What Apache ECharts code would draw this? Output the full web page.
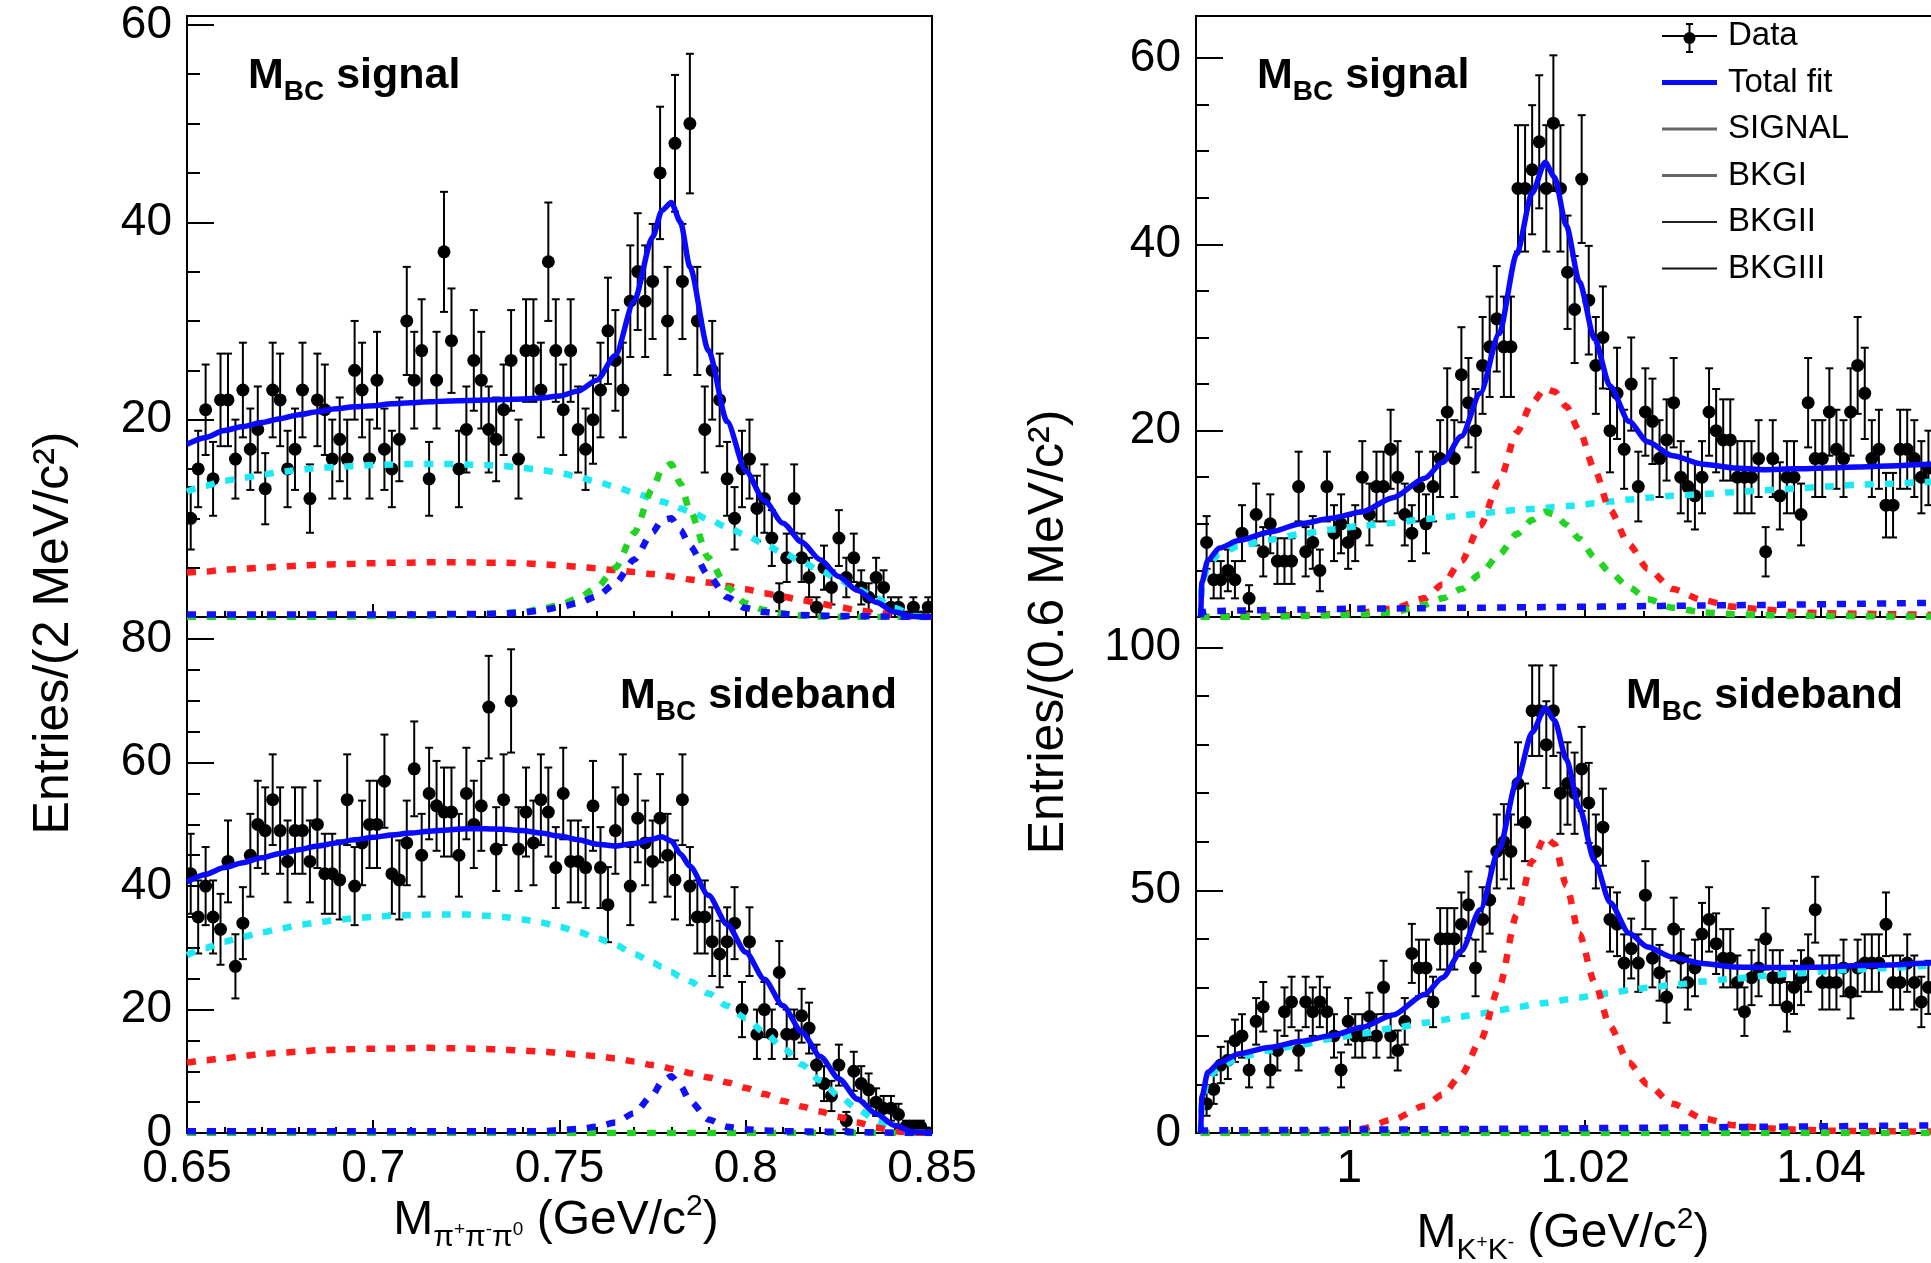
<!DOCTYPE html>
<html>
<head>
<meta charset="utf-8">
<title>M(π+π−π0) and M(K+K−) fits</title>
<script src="https://cdn.jsdelivr.net/npm/echarts@6.0.0/dist/echarts.min.js"></script>
<style>
  html, body { margin: 0; padding: 0; background: #ffffff; }
  #chart { width: 1931px; height: 1263px; }
</style>
</head>
<body>
<div id="chart"></div>
<script>
const FONT = '"Liberation Sans", Arial, Helvetica, sans-serif';

// ---------------- histograms ----------------
// M(pi+ pi- pi0): 2 MeV/c^2 bins from 0.65 GeV/c^2
const omegaLo = 0.65;
const omegaBin = 0.002;
const omegaSignal = [
  10,15,21,14,22,22,16,23,17,19,
  13,23,22,15,17,23,12,22,21,16,
  18,16,25,23,16,24,17,15,18,30,
  24,27,14,24,37,28,15,19,26,24,
  19,18,21,26,16,27,27,23,36,27,
  21,27,19,17,20,23,29,26,23,32,
  35,32,34,45,30,48,34,50,30,19,
  25,22,14,10,15,16,11,12,8,2,
  6,12,6,4,1,5,3,8,4,6,
  3,2,4,3,1,1,0,1,0,1
];
const omegaSideband = [
  42,35,40,35,33,44,27,34,45,50,
  49,54,49,44,49,49,44,50,42,42,
  41,54,40,47,50,50,57,42,41,47,
  59,45,55,53,52,52,45,55,50,53,
  69,46,54,70,46,52,47,54,52,43,
  55,44,44,43,53,43,37,49,54,40,
  51,47,44,51,45,41,54,40,35,35,
  31,29,31,34,20,31,16,20,16,26,
  16,16,19,17,11,8,6,11,2,10,
  8,7,5,4,4,3,1,1,1,0
];

// M(K+ K-): 0.6 MeV/c^2 bins from 0.987 GeV/c^2 (first bin empty, below threshold)
const phiLo = 0.987;
const phiBin = 0.0006;
const phiSignal = [
  null,8,4,4,5,4,9,2,11,7,
  10,6,6,6,14,7,8,5,14,9,
  10,8,9,15,11,14,14,18,15,11,
  9,14,10,14,17,22,17,26,23,20,
  27,29,32,29,29,46,46,48,51,46,
  53,46,37,33,47,34,27,30,20,24,
  18,25,14,22,21,17,19,23,15,14,
  13,15,22,20,19,19,15,15,15,17,
  7,17,13,15,15,11,23,17,17,22,
  18,17,22,27,24,17,18,12,12,18,
  18,17,15,16
];
const phiSideband = [
  null,6,9,14,15,19,20,13,23,26,
  13,17,25,27,17,27,25,27,25,20,
  13,23,20,20,24,20,30,20,17,23,
  37,34,34,27,40,40,40,43,47,34,
  44,48,58,60,58,72,64,87,87,80,
  87,70,72,70,75,68,58,63,44,43,
  35,38,35,49,36,33,28,42,36,31,
  34,41,44,39,36,36,31,25,32,34,
  40,32,32,26,30,32,35,46,31,31,
  31,34,29,34,35,35,35,43,31,31,
  35,31,27,30
];

// ---------------- fitted curves ----------------
const omegaCurveX = [
  0.65,0.655,0.66,0.665,0.67,0.675,0.68,0.685,0.69,0.695,
  0.70,0.705,0.71,0.715,0.72,0.725,0.73,0.735,0.74,0.745,
  0.75,0.755,0.76,0.765,0.77,0.775,0.7775,0.78,0.7825,0.785,
  0.79,0.795,0.80,0.805,0.81,0.815,0.82,0.825,0.83,0.835,
  0.84,0.845,0.85
];
const omegaSigTotal = [
  17.5,18.2,18.9,19.3,19.7,20.1,20.5,20.8,21.1,21.3,
  21.4,21.6,21.7,21.8,21.9,21.95,22.0,22.05,22.1,22.2,
  22.4,22.9,24.0,26.5,32.0,38.5,41.2,42.0,40.0,35.5,
  27.0,19.8,14.8,11.8,9.5,7.6,5.8,4.1,2.7,1.5,
  0.5,0.05,0
];
const omegaSigCyan = [
  12.7,13.3,13.8,14.1,14.4,14.7,14.9,15.1,15.2,15.3,
  15.4,15.45,15.5,15.5,15.5,15.45,15.4,15.3,15.1,14.9,
  14.6,14.2,13.7,13.2,12.6,12.0,11.7,11.4,11.0,10.7,
  9.9,9.1,8.3,7.4,6.5,5.6,4.7,3.8,2.8,1.9,
  0.9,0.1,0
];
const omegaSigRed = [
  4.5,4.6,4.8,4.9,5.0,5.1,5.2,5.3,5.35,5.4,
  5.45,5.5,5.5,5.55,5.55,5.55,5.5,5.5,5.45,5.35,
  5.25,5.1,4.95,4.75,4.55,4.35,4.25,4.1,3.95,3.8,
  3.5,3.15,2.8,2.4,2.05,1.7,1.35,1.0,0.7,0.45,
  0.2,0.05,0
];
const omegaSigGreen = [
  0,0,0,0,0,0,0,0,0.05,0.05,
  0.1,0.1,0.15,0.15,0.2,0.25,0.3,0.4,0.5,0.8,
  1.2,1.9,3.0,5.0,8.5,13.0,15.0,15.5,13.5,10.8,
  6.0,3.0,1.4,0.7,0.35,0.15,0.05,0,0,0,
  0,0,0
];
const omegaSigBlue = [
  0.25,0.25,0.25,0.25,0.25,0.25,0.25,0.25,0.25,0.25,
  0.25,0.25,0.25,0.25,0.3,0.3,0.3,0.35,0.45,0.65,
  1.0,1.4,2.1,3.4,5.8,8.6,9.8,10.0,8.8,7.2,
  4.2,2.0,0.9,0.5,0.3,0.2,0.15,0.1,0.1,0.05,
  0.05,0,0
];
const omegaSideTotal = [
  40.7,41.9,43.0,43.8,44.6,45.3,45.9,46.5,47.0,47.5,
  47.9,48.3,48.6,48.9,49.1,49.3,49.3,49.2,49.0,48.6,
  48.1,47.5,46.8,46.5,46.9,47.6,48.0,47.3,45.2,43.2,
  38.5,33.8,29.3,24.9,20.6,16.4,12.4,8.8,5.5,3.1,
  1.2,0.15,0
];
const omegaSideCyan = [
  28.8,30.0,31.0,31.8,32.5,33.1,33.7,34.1,34.5,34.8,
  35.0,35.2,35.3,35.4,35.4,35.4,35.2,35.0,34.6,34.1,
  33.4,32.6,31.6,30.5,29.0,27.6,26.9,26.1,25.3,24.6,
  22.6,20.6,18.6,16.3,13.8,11.1,8.5,6.0,3.9,2.0,
  0.6,0.05,0
];
const omegaSideRed = [
  11.4,11.8,12.1,12.5,12.8,13.0,13.2,13.4,13.5,13.6,
  13.65,13.7,13.75,13.8,13.75,13.7,13.6,13.5,13.35,13.2,
  13.0,12.7,12.45,12.1,11.6,11.0,10.75,10.4,10.1,9.7,
  9.0,8.2,7.3,6.3,5.2,4.3,3.5,2.6,1.7,0.9,
  0.3,0.05,0
];
const omegaSideGreen = [
  0,0,0,0,0,0,0,0,0,0,
  0,0,0,0,0,0,0,0,0,0,
  0,0,0,0,0,0,0,0,0,0,
  0,0,0,0,0,0,0,0,0,0,
  0,0,0
];
const omegaSideBlue = [
  0.3,0.3,0.3,0.3,0.3,0.3,0.3,0.3,0.3,0.3,
  0.3,0.3,0.3,0.3,0.3,0.3,0.3,0.3,0.3,0.3,
  0.45,0.65,1.0,1.7,3.2,6.2,8.3,9.2,7.6,5.2,
  2.2,1.0,0.6,0.4,0.3,0.25,0.2,0.2,0.15,0.1,
  0.05,0,0
];

const phiCurveX = [
  0.9874,0.9875,0.9880,0.9890,0.9906,0.9932,0.9959,0.9985,1.0011,1.0037,
  1.0064,1.0079,1.0095,1.0111,1.0127,1.0142,1.0155,1.0166,1.0174,1.0184,
  1.0195,1.0208,1.0221,1.0237,1.0253,1.0274,1.0300,1.0326,1.0352,1.0378,
  1.0405,1.0431,1.0457,1.0493,1.0530
];
const phiSigTotal = [
  0,3.7,6.1,7.4,8.2,9.1,10.0,10.6,11.3,12.8,
  14.9,16.6,19.4,24.0,30.4,39.0,45.5,48.8,47.2,42.0,
  36.0,29.8,24.8,21.0,18.8,17.3,16.4,16.0,15.8,15.9,
  16.0,16.1,16.2,16.4,16.6
];
const phiSigCyan = [
  0,3.5,5.5,6.8,7.6,8.3,8.9,9.4,9.8,10.1,
  10.5,10.7,10.9,11.1,11.3,11.5,11.6,11.7,11.8,11.9,
  12.0,12.2,12.4,12.6,12.8,13.0,13.2,13.4,13.6,13.8,
  14.0,14.2,14.3,14.5,14.7
];
const phiSigRed = [
  0,0,0,0.05,0.1,0.15,0.2,0.3,0.5,0.9,
  2.0,3.5,6.0,9.8,14.5,19.8,23.0,24.5,24.2,22.6,
  20.0,15.8,11.5,7.8,5.2,3.0,1.8,1.1,0.8,0.5,
  0.4,0.35,0.3,0.25,0.2
];
const phiSigGreen = [
  0,0,0,0,0,0.05,0.1,0.2,0.3,0.5,
  1.3,2.0,3.0,4.6,6.7,8.9,10.4,11.3,11.0,9.9,
  8.4,6.4,4.8,3.2,1.9,1.0,0.5,0.3,0.2,0.15,
  0.1,0.1,0.05,0.05,0.05
];
const phiSigBlue = [
  0,0.5,0.6,0.65,0.7,0.75,0.8,0.85,0.9,0.92,
  0.95,0.97,1.0,1.0,1.02,1.04,1.05,1.06,1.07,1.08,
  1.1,1.11,1.13,1.15,1.17,1.2,1.23,1.27,1.3,1.34,
  1.38,1.42,1.46,1.5,1.55
];
const phiSideTotal = [
  0,7.5,12.5,14.5,16.3,17.6,18.9,20.1,21.8,24.3,
  28.6,32.0,37.5,46.0,58.5,72.5,82.5,87.6,85.0,77.0,
  67.0,56.0,47.5,41.2,38.3,36.2,34.9,34.2,34.1,34.1,
  34.2,34.5,34.6,35.0,35.4
];
const phiSideCyan = [
  0,6.0,11.5,13.5,15.5,17.0,18.2,19.4,20.5,21.6,
  22.7,23.3,24.0,24.6,25.3,25.9,26.4,26.8,27.1,27.5,
  27.9,28.4,28.8,29.4,29.9,30.5,31.2,31.8,32.4,32.9,
  33.3,33.7,34.0,34.5,34.9
];
const phiSideRed = [
  0,0,0,0,0.05,0.1,0.2,0.4,0.9,2.8,
  5.6,7.9,12.0,19.0,30.0,45.0,56.0,61.0,59.5,51.0,
  41.0,31.0,22.0,14.5,10.0,6.0,3.0,1.6,1.0,0.7,
  0.5,0.4,0.35,0.3,0.25
];
const phiSideGreen = [
  0,0,0,0,0,0,0,0,0,0,
  0,0,0,0,0,0,0,0,0,0,
  0,0,0,0,0,0,0,0,0,0,
  0,0,0,0,0
];
const phiSideBlue = [
  0,0.5,0.5,0.55,0.55,0.6,0.6,0.65,0.7,0.72,
  0.75,0.77,0.8,0.82,0.85,0.87,0.9,0.92,0.93,0.95,
  0.97,1.0,1.02,1.05,1.08,1.12,1.17,1.22,1.27,1.33,
  1.38,1.43,1.48,1.55,1.62
];

// ---------------- axes ----------------
const omegaMassRange = [0.65, 0.85];
const phiMassRange = [0.987, 1.06];
const omegaMassTicks = [0.65, 0.7, 0.75, 0.8, 0.85];
const phiMassTicks = [1.0, 1.02, 1.04, 1.06];
const omegaSigCountTicks = [0, 20, 40, 60];
const omegaSigCountLabels = [20, 40, 60];
const omegaSideCountTicks = [0, 20, 40, 60, 80];
const phiSigCountTicks = [0, 20, 40, 60];
const phiSigCountLabels = [20, 40, 60];
const phiSideCountTicks = [0, 50, 100];

// ---------------- layout ----------------
const panels = [
  { grid: { left: 187, top: 16, width: 745, height: 601 }, x: omegaMassRange, yMax: 60.9,
    xMajor: omegaMassTicks, xMinorStep: 0.01, xLabels: false,
    yMajor: omegaSigCountTicks, yLabels: omegaSigCountLabels, yMinorStep: 5 },
  { grid: { left: 187, top: 617, width: 745, height: 516 }, x: omegaMassRange, yMax: 83.6,
    xMajor: omegaMassTicks, xMinorStep: 0.01, xLabels: true,
    yMajor: omegaSideCountTicks, yLabels: omegaSideCountTicks, yMinorStep: 5 },
  { grid: { left: 1196, top: 16, width: 861, height: 601 }, x: phiMassRange, yMax: 64.5,
    xMajor: phiMassTicks, xMinorStep: 0.005, xLabels: false,
    yMajor: phiSigCountTicks, yLabels: phiSigCountLabels, yMinorStep: 5 },
  { grid: { left: 1196, top: 617, width: 861, height: 516 }, x: phiMassRange, yMax: 106.3,
    xMajor: phiMassTicks, xMinorStep: 0.005, xLabels: true,
    yMajor: phiSideCountTicks, yLabels: phiSideCountTicks, yMinorStep: 10 }
];

function minorTicks(lo, hi, step, majors) {
  const out = [];
  const start = Math.ceil(lo / step - 1e-6);
  const end = Math.floor(hi / step + 1e-6);
  for (let k = start; k <= end; k++) {
    const v = +(k * step).toFixed(6);
    if (!majors.some(m => Math.abs(m - v) < step * 1e-3)) out.push(v);
  }
  return out;
}

const tickLine = { color: '#000', width: 2 };
const labelStyle = { fontSize: 46, fontFamily: FONT, color: '#000' };

const xAxes = [], yAxes = [];
panels.forEach((p, g) => {
  xAxes.push({
    type: 'value', gridIndex: g, min: p.x[0], max: p.x[1], position: 'bottom',
    axisLine: { show: true, onZero: false, lineStyle: tickLine },
    axisTick: { show: true, inside: true, length: 13, customValues: p.xMajor, lineStyle: tickLine },
    axisLabel: Object.assign({ show: p.xLabels, customValues: p.xMajor, margin: 13 }, labelStyle),
    splitLine: { show: false }
  });
  xAxes.push({
    type: 'value', gridIndex: g, min: p.x[0], max: p.x[1], position: 'bottom',
    axisLine: { show: false },
    axisTick: { show: true, inside: true, length: 6,
      customValues: minorTicks(p.x[0], p.x[1], p.xMinorStep, p.xMajor), lineStyle: tickLine },
    axisLabel: { show: false },
    splitLine: { show: false }
  });
  yAxes.push({
    type: 'value', gridIndex: g, min: 0, max: p.yMax, position: 'left',
    axisLine: { show: true, onZero: false, lineStyle: tickLine },
    axisTick: { show: true, inside: true, length: 27, customValues: p.yMajor, lineStyle: tickLine },
    axisLabel: Object.assign({ show: true, customValues: p.yLabels, margin: 15 }, labelStyle),
    splitLine: { show: false }
  });
  yAxes.push({
    type: 'value', gridIndex: g, min: 0, max: p.yMax, position: 'left',
    axisLine: { show: false },
    axisTick: { show: true, inside: true, length: 13,
      customValues: minorTicks(0, p.yMax, p.yMinorStep, p.yMajor), lineStyle: tickLine },
    axisLabel: { show: false },
    splitLine: { show: false }
  });
});

// ---------------- series ----------------
function histogramSeries(g, counts, lo, width) {
  const pts = [];
  counts.forEach((n, i) => {
    if (n === null) return;
    pts.push([lo + (i + 0.5) * width, n, Math.sqrt(n)]);
  });
  return {
    type: 'custom', xAxisIndex: 2 * g, yAxisIndex: 2 * g, data: pts, z: 2, clip: true, silent: true,
    renderItem(params, api) {
      const x = api.value(0), y = api.value(1), e = api.value(2);
      const c = api.coord([x, y]);
      const hi = api.coord([x, y + e]);
      const lo = api.coord([x, Math.max(0, y - e)]);
      const kids = [];
      if (e > 0) {
        const s = { stroke: '#000', lineWidth: 2 };
        kids.push({ type: 'line', shape: { x1: c[0], y1: hi[1], x2: c[0], y2: lo[1] }, style: s });
        kids.push({ type: 'line', shape: { x1: c[0] - 4, y1: hi[1], x2: c[0] + 4, y2: hi[1] }, style: s });
        kids.push({ type: 'line', shape: { x1: c[0] - 4, y1: lo[1], x2: c[0] + 4, y2: lo[1] }, style: s });
      }
      kids.push({ type: 'circle', shape: { cx: c[0], cy: c[1], r: 6.5 }, style: { fill: '#000' } });
      return { type: 'group', children: kids };
    }
  };
}

const COLORS = { total: '#0a0aff', cyan: '#1de9f5', red: '#ff1c1c', green: '#22d422', blue: '#1010ff' };

function curveSeries(g, xs, ys, color, width, dashed, z) {
  return {
    type: 'line', xAxisIndex: 2 * g, yAxisIndex: 2 * g,
    data: xs.map((x, i) => [x, ys[i]]),
    symbol: 'none', showSymbol: false, smooth: 0.25, smoothMonotone: 'x',
    lineStyle: { color, width, type: dashed ? [9, 11] : 'solid', cap: 'butt' },
    z, silent: true, clip: true
  };
}

function panelCurves(g, xs, total, cyan, red, green, blue) {
  return [
    curveSeries(g, xs, cyan, COLORS.cyan, 6.5, true, 3),
    curveSeries(g, xs, red, COLORS.red, 6.5, true, 3),
    curveSeries(g, xs, green, COLORS.green, 6.5, true, 3),
    curveSeries(g, xs, blue, COLORS.blue, 6.5, true, 3),
    curveSeries(g, xs, total, COLORS.total, 5.5, false, 4)
  ];
}

const series = [
  histogramSeries(0, omegaSignal, omegaLo, omegaBin),
  histogramSeries(1, omegaSideband, omegaLo, omegaBin),
  histogramSeries(2, phiSignal, phiLo, phiBin),
  histogramSeries(3, phiSideband, phiLo, phiBin),
  ...panelCurves(0, omegaCurveX, omegaSigTotal, omegaSigCyan, omegaSigRed, omegaSigGreen, omegaSigBlue),
  ...panelCurves(1, omegaCurveX, omegaSideTotal, omegaSideCyan, omegaSideRed, omegaSideGreen, omegaSideBlue),
  ...panelCurves(2, phiCurveX, phiSigTotal, phiSigCyan, phiSigRed, phiSigGreen, phiSigBlue),
  ...panelCurves(3, phiCurveX, phiSideTotal, phiSideCyan, phiSideRed, phiSideGreen, phiSideBlue)
];

// ---------------- text: titles, sub/superscripts, legend ----------------
const measureCtx = document.createElement('canvas').getContext('2d');
function widthOf(text, size, weight) {
  measureCtx.font = (weight || 'normal') + ' ' + size + 'px ' + FONT;
  return measureCtx.measureText(text).width;
}
// Lays out pieces of text on a common baseline; dy shifts a piece down (sub) or up (sup).
function textRun(x, baseline, pieces, align) {
  const widths = pieces.map(p => widthOf(p.t, p.size, p.weight));
  const total = widths.reduce((a, b) => a + b, 0);
  let cx = align === 'center' ? x - total / 2 : x;
  return pieces.map((p, i) => {
    const el = {
      type: 'text', x: cx, y: baseline + (p.dy || 0) - 0.347 * p.size, silent: true,
      style: {
        text: p.t, fontSize: p.size, fontWeight: p.weight || 'normal', fontFamily: FONT, fill: '#000',
        align: 'left', verticalAlign: 'middle', textAlign: 'left', textVerticalAlign: 'middle'
      }
    };
    cx += widths[i];
    return el;
  });
}

function mbcLabel(x, baseline, word) {
  return textRun(x, baseline, [
    { t: 'M', size: 43, weight: 'bold' },
    { t: 'BC', size: 28, weight: 'bold', dy: 11 },
    { t: ' ' + word, size: 43, weight: 'bold' }
  ], 'left');
}

function rotatedTitle(x, y, text) {
  return {
    type: 'text', x, y, rotation: Math.PI / 2, silent: true,
    style: {
      text, fontSize: 50, fontFamily: FONT, fill: '#000',
      align: 'center', verticalAlign: 'middle', textAlign: 'center', textVerticalAlign: 'middle'
    }
  };
}

const legendRows = [
  { name: 'Data', kind: 'data' },
  { name: 'Total fit', color: COLORS.total, width: 5 },
  { name: 'SIGNAL', color: '#666', width: 3 },
  { name: 'BKGI', color: '#666', width: 3 },
  { name: 'BKGII', color: '#222', width: 2 },
  { name: 'BKGIII', color: '#111', width: 2 }
];
const legendEls = [];
legendRows.forEach((r, i) => {
  const y = 36 + i * 46.5;
  if (r.kind === 'data') {
    legendEls.push({ type: 'line', silent: true, shape: { x1: 1662, y1: y, x2: 1717, y2: y }, style: { stroke: '#000', lineWidth: 2 } });
    legendEls.push({ type: 'line', silent: true, shape: { x1: 1689.5, y1: y - 12, x2: 1689.5, y2: y + 16 }, style: { stroke: '#000', lineWidth: 2 } });
    legendEls.push({ type: 'line', silent: true, shape: { x1: 1686, y1: y - 12, x2: 1693, y2: y - 12 }, style: { stroke: '#000', lineWidth: 2 } });
    legendEls.push({ type: 'line', silent: true, shape: { x1: 1686, y1: y + 16, x2: 1693, y2: y + 16 }, style: { stroke: '#000', lineWidth: 2 } });
    legendEls.push({ type: 'circle', silent: true, shape: { cx: 1689.5, cy: y + 2, r: 6 }, style: { fill: '#000' } });
  } else {
    legendEls.push({ type: 'line', silent: true, shape: { x1: 1662, y1: y, x2: 1717, y2: y }, style: { stroke: r.color, lineWidth: r.width } });
  }
  legendEls.push(...textRun(1728, y + 11.5, [{ t: r.name, size: 33 }], 'left'));
});

const graphics = [
  rotatedTitle(54, 633, 'Entries/(2 MeV/c²)'),
  rotatedTitle(1049, 632, 'Entries/(0.6 MeV/c²)'),
  ...textRun(556, 1237, [
    { t: 'M', size: 48 },
    { t: 'π', size: 30, dy: 11 }, { t: '+', size: 19, dy: -1 },
    { t: 'π', size: 30, dy: 11 }, { t: '-', size: 19, dy: -1 },
    { t: 'π', size: 30, dy: 11 }, { t: '0', size: 19, dy: -1 },
    { t: ' (GeV/c', size: 48 },
    { t: '2', size: 30, dy: -20 },
    { t: ')', size: 48 }
  ], 'center'),
  ...textRun(1563, 1250, [
    { t: 'M', size: 48 },
    { t: 'K', size: 30, dy: 11 }, { t: '+', size: 19, dy: -1 },
    { t: 'K', size: 30, dy: 11 }, { t: '-', size: 19, dy: -1 },
    { t: ' (GeV/c', size: 48 },
    { t: '2', size: 30, dy: -20 },
    { t: ')', size: 48 }
  ], 'center'),
  ...mbcLabel(248, 91, 'signal'),
  ...mbcLabel(1257, 91, 'signal'),
  ...mbcLabel(620, 711, 'sideband'),
  ...mbcLabel(1626, 711, 'sideband'),
  ...legendEls
];

const chart = echarts.init(document.getElementById('chart'), null, { renderer: 'canvas' });
chart.setOption({
  animation: false,
  backgroundColor: '#ffffff',
  grid: panels.map(p => Object.assign({
    show: true, borderColor: '#000', borderWidth: 2, backgroundColor: 'transparent',
    containLabel: false, outerBoundsMode: 'none'
  }, p.grid)),
  xAxis: xAxes,
  yAxis: yAxes,
  series,
  graphic: { elements: graphics }
});
</script>
</body>
</html>
